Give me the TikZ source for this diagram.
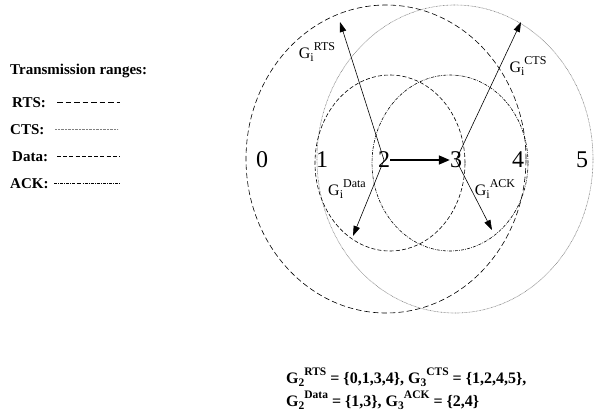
\documentclass[tikz,border=0pt]{standalone}
\usepackage{fontspec}
\setmainfont{Liberation Serif}
\usepackage{tikz}
\usetikzlibrary{arrows.meta}

% G with subscript and superscript set one after the other
\newcommand{\gsym}[3]{G\raisebox{-0.2em}{\fontsize{#3}{#3}\selectfont #1}\raisebox{0.5em}{\fontsize{#3}{#3}\selectfont #2}}

\tikzset{
  rtsline/.style={line width=0.6pt, dash pattern=on 5.5pt off 3pt},
  ctsline/.style={line width=0.6pt, gray, dash pattern=on 0.7pt off 0.7pt},
  dataline/.style={line width=0.6pt, dash pattern=on 4pt off 2.2pt},
  ackline/.style={line width=0.6pt, dash pattern=on 3pt off 1.2pt on 0.7pt off 1.2pt},
  station/.style={inner sep=0pt, font=\fontsize{24}{28}\selectfont},
  glabel/.style={inner sep=0pt, font=\fontsize{16}{19}\selectfont},
  legend/.style={anchor=west, inner sep=0pt, font=\bfseries\fontsize{15}{17}\selectfont},
  setline/.style={anchor=base west, inner sep=0pt, font=\bfseries\fontsize{16}{18}\selectfont},
  rangearrow/.style={line width=0.6pt, -{Triangle[length=10pt,width=6.5pt]}},
}

\begin{document}
\begin{tikzpicture}[x=1pt, y=-1pt]
\useasboundingbox (0,0) rectangle (595,418);

% Legend
\node[legend] (ltitle) at (10,71) {Transmission ranges:};
\node[legend] (lrts) at (12,103) {RTS:};
\node[legend] (lcts) at (10,130) {CTS:};
\node[legend] (ldata) at (12,157) {Data:};
\node[legend] (lack) at (10,184) {ACK:};
\draw[rtsline] (57,102) -- (120,102);
\draw[ctsline] (55,129) -- (118,129);
\draw[dataline] (57,156) -- (120,156);
\draw[ackline] (54,183) -- (120,183);

% Transmission ranges
\draw[rtsline] (386,159) ellipse [x radius=140pt, y radius=154pt];
\draw[ctsline] (455,159) ellipse [x radius=138pt, y radius=154pt];
\draw[dataline] (390,163) ellipse [x radius=75pt, y radius=88pt];
\draw[ackline] (450,163) ellipse [x radius=78pt, y radius=88pt];

% Stations
\node[station] (n0) at (262,160) {0};
\node[station] (n1) at (322,160) {1};
\node[station] (n2) at (384,160) {2};
\node[station] (n3) at (456,160) {3};
\node[station] (n4) at (518,160) {4};
\node[station] (n5) at (582,160) {5};

% Range arrows
\coordinate (trts) at (340,22);
\coordinate (tdata) at (353,236);
\coordinate (tcts) at (521,22);
\coordinate (tack) at (492,230);
\draw[rangearrow] (n2.center) -- (trts);
\draw[rangearrow] (n2.center) -- (tdata);
\draw[rangearrow] (n3.center) -- (tcts);
\draw[rangearrow] (n3.center) -- (tack);
\draw[line width=1.6pt, -{Triangle[length=11pt,width=9pt]}] (n2.east) -- (n3.west);

\node[glabel] (grts) at (317,52) {\gsym{i}{RTS}{12}};
\node[glabel] (gcts) at (528,66) {\gsym{i}{CTS}{12}};
\node[glabel] (gdata) at (347,189) {\gsym{i}{Data}{12}};
\node[glabel] (gack) at (495,189) {\gsym{i}{ACK}{12}};

% Sets
\node[setline] (sets1) at (286,383) {\gsym{2}{RTS}{11.5} = \{0,1,3,4\}, \gsym{3}{CTS}{11.5} = \{1,2,4,5\},};
\node[setline] (sets2) at (286,406) {\gsym{2}{Data}{11.5} = \{1,3\}, \gsym{3}{ACK}{11.5} = \{2,4\}};
\end{tikzpicture}
\end{document}
